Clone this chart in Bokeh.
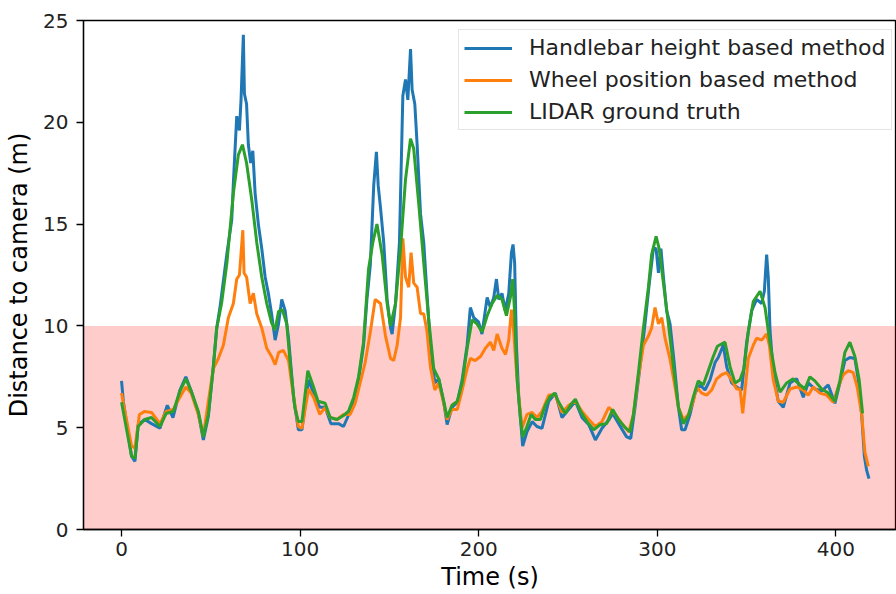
from bokeh.plotting import figure
from bokeh.models import Range1d, FixedTicker, BoxAnnotation, Legend, LegendItem
from bokeh.embed import file_html
from bokeh.resources import INLINE

# ---------------- data ----------------
handlebar_t = [0, 1, 5.6, 7.5, 9.3, 13, 16.8, 21.5, 25.6, 28.8, 32.7, 36, 39, 43, 45.8, 48.6,
               51.4, 53.3, 55.1, 58.9, 61.7, 62.6, 64.5, 66, 66.9, 68.2, 68.8, 70, 71, 72.3,
               73.5, 74.8, 76.6, 78.5, 80.4, 82.2, 84, 86, 87.9, 89.7, 91.6, 93.5, 96.3, 99,
               101, 104.7, 107.5, 111, 114, 117.2, 121.5, 124.3, 127, 130, 132.7, 135.5, 137.4,
               139.3, 141.2, 142.7, 143.7, 145, 146.8, 148.7, 150.6, 151.5, 153.4, 155.6, 157.5,
               159, 160.3, 161.8, 162.7, 164.2, 165.5, 167.4, 169.2, 171, 172.9, 175.4, 177.6,
               180.4, 182.3, 185, 188, 190.7, 193.5, 195.3, 197.2, 199.9, 201.8, 204.7, 206.5,
               208.4, 209.9, 211.2, 213, 214.9, 216.8, 218.3, 219.2, 220.1, 221.1, 222.4, 224.6,
               227, 229.9, 232.6, 235.4, 239.2, 242.9, 246.6, 250.4, 254.1, 257.8, 261.6, 265.3,
               269, 273, 275, 279, 282.8, 285.1, 287.5, 290.3, 293.1, 295.5, 297.8, 299.3, 300.6,
               302, 303.4, 305.2, 307.1, 309, 311.8, 313.6, 315.5, 318.3, 321.1, 323.9, 326.7,
               329.5, 332.3, 334.1, 336.9, 338.8, 341.6, 344.4, 347.2, 350, 352.8, 355.6, 358.4,
               359.9, 361.2, 362.1, 363.1, 364.9, 367.7, 370.5, 374.3, 378, 381.7, 384.5, 388.2,
               392, 395.7, 399.4, 402.2, 405, 407.8, 410.6, 412.5, 414.4, 415.9, 417.2, 418.5]
handlebar_d = [7.3, 6.3, 3.6, 3.35, 5.15, 5.4, 5.2, 4.97, 6.1, 5.5, 6.85, 7.5, 6.8, 5.7, 4.4, 5.55,
               8.0, 9.9, 10.9, 13.5, 15.2, 17.0, 20.3, 19.6, 21.1, 24.3, 21.4, 20.9, 18.9, 18.0,
               18.6, 16.5, 15.0, 13.8, 12.4, 11.6, 10.6, 9.3, 10.1, 11.3, 10.75, 9.4, 6.5, 4.9,
               4.9, 7.35, 6.7, 6.0, 6.0, 5.2, 5.2, 5.06, 5.6, 6.2, 7.35, 9.05, 11.3,
               13.0, 16.9, 18.55, 16.9, 15.8, 14.1, 11.3, 9.9, 9.6, 11.1, 14.1, 21.3,
               22.1, 21.1, 23.6, 21.6, 20.9, 18.9, 15.5, 14.1, 11.6, 9.05, 7.2, 7.4,
               6.25, 5.15, 6.0, 6.25, 7.35, 9.05, 10.9, 10.4, 10.2, 9.6, 11.4, 10.9,
               11.4, 12.3, 11.3, 11.6, 10.75, 11.6, 13.6, 14.0, 13.1, 9.05, 6.5, 4.1,
               4.8, 5.3, 5.06, 4.97, 6.3, 6.7, 5.5, 5.9, 6.3, 5.5, 5.15, 4.4,
               4.97, 5.4, 5.7, 5.1, 4.55, 4.47, 6.0, 8.0, 10.1, 12.1, 13.8, 13.8, 12.6,
               13.8, 12.4, 10.75, 10.1, 8.55, 6.0, 4.9, 4.9, 5.65, 6.7, 7.1, 6.85,
               7.35, 8.2, 8.45, 9.05, 8.0, 7.2, 7.0, 6.85, 9.2, 10.75, 11.3, 11.1,
               11.7, 13.5, 12.4, 9.75, 7.7, 6.3, 6.0, 7.2, 7.4, 6.5, 7.2, 6.9,
               6.8, 7.1, 6.2, 7.2, 8.3, 8.45, 8.4, 7.35, 5.65, 3.6, 2.9, 2.5]

wheel_t = [0, 1, 5.6, 7.5, 10, 13, 16.8, 21.5, 25, 29, 32.7, 36, 39, 43, 45.8, 48.6, 51.4, 54.2,
           57, 59.8, 62.6, 64.5, 66, 67.9, 68.6, 70, 72, 73.8, 75.7, 78.5, 81.3, 84, 86, 88,
           90.6, 93.5, 96, 99, 101, 104.7, 107.5, 111, 114, 116.8, 120.6, 124.3, 128, 130.8,
           133.6, 136.4, 139.3, 142, 145, 147.8, 150.6, 152.4, 154.3, 156.2, 157.5, 159, 160.8,
           162.1, 163.6, 165.5, 167.4, 169.2, 171, 172.9, 175.4, 177.6, 180.4, 182.3, 185, 188,
           190.7, 193.5, 195.3, 198, 201, 203.7, 206.5, 208.4, 210.3, 213, 215, 216.8, 218.3,
           219.5, 220.9, 222.4, 224.3, 227, 229.9, 232.6, 235.4, 239.2, 242.9, 246.6, 250.4,
           254.1, 257.8, 261.6, 265.3, 269, 272.8, 276.5, 280.2, 284, 286.6, 289.4, 292.2, 295,
           296.8, 298.7, 300.6, 302.5, 304.3, 307, 309.3, 311.8, 314.6, 317.4, 320.1, 322, 324.8,
           327.6, 330.4, 333.2, 336, 338.8, 341.6, 344.4, 346.3, 347.8, 349.1, 350.9, 353.7,
           355.6, 358.4, 361.2, 362.7, 364.9, 367.7, 370.5, 374.3, 378, 381.7, 384.5, 387.3,
           391, 394.8, 398.5, 401.3, 404.1, 406.9, 409.7, 411.9, 414.4, 416.2, 418.1]
wheel_d = [6.7, 6.2, 4.1, 4.0, 5.65, 5.8, 5.75, 5.2, 5.8, 5.9, 6.5, 7.0, 6.7, 5.65, 4.6, 6.3, 7.9, 8.4,
           9.05, 10.4, 11.1, 12.3, 12.5, 14.7, 12.6, 12.4, 11.1, 11.6, 10.6, 9.9, 8.9, 8.5, 8.1, 8.7,
           8.8, 8.3, 6.7, 5.06, 4.97, 6.9, 6.5, 5.65, 6.0, 5.5, 5.4, 5.65, 5.65, 6.2,
           7.2, 8.2, 9.7, 11.3, 11.1, 9.5, 8.4, 8.3, 9.05, 10.4, 14.3, 12.4, 11.9,
           13.6, 12.1, 11.9, 10.6, 10.6, 9.75, 8.0, 6.85, 7.2, 6.2, 5.4, 5.9, 5.9,
           6.85, 7.9, 8.4, 8.3, 8.5, 8.9, 9.2, 8.8, 9.6, 8.9, 8.6, 9.3, 10.8,
           9.8, 8.0, 6.5, 5.0, 5.65, 5.75, 5.5, 5.8, 6.6, 6.6, 5.75, 6.1,
           6.3, 5.8, 5.4, 5.06, 5.3, 6.0, 5.65, 5.2, 4.8, 5.65, 7.5, 9.05, 9.5,
           9.9, 10.9, 10.1, 10.4, 9.4, 8.4, 7.3, 6.0, 5.4, 5.65, 6.3, 7.0, 6.7,
           6.6, 6.85, 7.4, 7.6, 7.7, 7.35, 6.9, 6.9, 5.7, 6.85, 8.4, 9.05,
           9.4, 9.3, 9.6, 9.05, 7.35, 6.3, 6.25, 6.9, 7.0, 6.85, 6.6, 7.0,
           6.7, 6.6, 6.25, 7.0, 7.6, 7.8, 7.7, 7.0, 5.65, 3.8, 3.1]

lidar_t = [0, 5.6, 7.5, 9.3, 13, 16.8, 21.5, 25, 29, 32.7, 36, 39, 43, 45.8, 48.6, 51.4, 53.3, 56,
           59, 62.6, 65.4, 67.7, 70, 72.9, 75.7, 78.5, 81.3, 84, 86, 87.9, 90, 92.5, 94.4, 97, 99,
           101, 104.3, 107.5, 110, 114, 116.8, 120.6, 124.3, 127, 130, 132.7, 135.5, 138.3, 140.7,
           143, 145.9, 148.7, 150.6, 153.4, 156.2, 159, 161.8, 163.6, 166.4, 169.2, 172, 174.8,
           177.6, 180.4, 182.3, 185, 188, 190.7, 193.5, 196.3, 199, 201.9, 204.7, 207.5, 210.3,
           213, 215.5, 217.7, 219, 220, 221.5, 223.3, 224.6, 227, 229.3, 231.7, 234.5, 237.3,
           239.7, 242.5, 244.8, 248.5, 251.3, 254.1, 257, 260.6, 264.4, 268, 271.6, 275, 278.2,
           282, 284.7, 286.6, 289.4, 292.2, 295, 296.8, 299.3, 301, 303.4, 306.2, 309, 311.8,
           314.6, 317.4, 320.1, 322.9, 325.7, 328.5, 331.3, 333.6, 337.9, 340.7, 343.5, 346.3,
           348.5, 350.9, 353.7, 357.5, 360.3, 363, 365.9, 368.7, 372.4, 376, 379.9, 382.6, 385.4,
           388.2, 392, 395.7, 399.4, 402.2, 405, 407.8, 410.6, 413, 414.9]
lidar_d = [6.25, 3.6, 3.5, 5.06, 5.4, 5.5, 5.06, 5.7, 5.8, 6.8, 7.4, 6.8, 5.8, 4.55, 5.65, 8.0, 9.9, 11.1,
           13.1, 16.5, 18.4, 18.9, 18.0, 16.2, 14.1, 12.4, 11.1, 10.15, 9.8, 10.7, 10.8, 10.1, 8.2, 6.0, 5.3,
           5.3, 7.8, 7.0, 6.3, 6.2, 5.5, 5.4, 5.6, 5.8, 6.5, 7.5, 9.2, 12.8, 14.1,
           15.0, 13.5, 11.1, 10.0, 11.1, 13.8, 17.2, 19.2, 18.7, 16.0, 13.1, 10.3, 7.9,
           7.4, 6.3, 5.5, 6.1, 6.3, 7.2, 8.9, 10.3, 10.1, 9.7, 10.5, 11.1, 11.5,
           11.3, 10.5, 11.4, 12.3, 10.8, 7.35, 5.5, 4.55, 5.06, 5.65, 5.4, 5.4, 6.1,
           6.5, 6.7, 6.25, 5.7, 6.1, 6.4, 5.8, 5.3, 4.9, 5.15, 5.2, 5.9, 5.4,
           5.0, 4.8, 5.65, 7.7, 9.9, 11.9, 13.5, 14.4, 13.8, 12.1, 10.1, 8.0, 6.0,
           5.2, 5.6, 6.5, 7.3, 7.1, 7.8, 8.5, 9.0, 9.2, 8.0, 7.2, 7.35,
           7.9, 9.7, 11.2, 11.7, 10.9, 9.2, 7.7, 6.75, 7.2, 7.4, 7.1, 6.9, 7.5,
           7.3, 6.9, 6.7, 6.3, 7.3, 8.7, 9.2, 8.5, 7.35, 5.7]

series_labels = ["Handlebar height based method", "Wheel position based method", "LIDAR ground truth"]
x_ticks = [0, 100, 200, 300, 400]
y_ticks = [0, 5, 10, 15, 20, 25]
danger_low = 0
danger_high = 10

FONT = "DejaVu Sans"

p = figure(width=896, height=594, output_backend="svg", toolbar_location=None,
           x_range=Range1d(-21.3, 433.9), y_range=Range1d(0, 25),
           min_border_left=83, min_border_top=20, min_border_bottom=65, min_border_right=0,
           background_fill_color="white", border_fill_color="white")
p.grid.visible = False
p.outline_line_color = "black"
p.outline_line_width = 1.3

band = BoxAnnotation(bottom=danger_low, top=danger_high, fill_color="red", fill_alpha=0.2,
                     line_color=None, level="underlay")
p.add_layout(band)

r1 = p.line(handlebar_t, handlebar_d, line_color="#1f77b4", line_width=3)
r2 = p.line(wheel_t, wheel_d, line_color="#ff7f0e", line_width=3)
r3 = p.line(lidar_t, lidar_d, line_color="#2ca02c", line_width=3)

for ax in (p.xaxis[0], p.yaxis[0]):
    ax.major_label_text_font = FONT
    ax.major_label_text_font_size = "20px"
    ax.major_label_text_color = "#222222"
    ax.axis_label_text_font = FONT
    ax.axis_label_text_font_size = "24px"
    ax.axis_label_text_font_style = "normal"
    ax.axis_label_text_color = "black"
    ax.minor_tick_line_color = None
    ax.major_tick_out = 7
    ax.major_tick_in = 0
    ax.major_tick_line_width = 1.3
    ax.axis_line_width = 1.3
    ax.axis_line_color = "black"
    ax.major_tick_line_color = "black"

p.xaxis[0].ticker = FixedTicker(ticks=x_ticks)
p.yaxis[0].ticker = FixedTicker(ticks=y_ticks)
p.xaxis[0].axis_label = "Time (s)"
p.yaxis[0].axis_label = "Distance to camera (m)"
p.xaxis[0].major_label_standoff = 5
p.xaxis[0].axis_label_standoff = 4
p.yaxis[0].major_label_standoff = 8
p.yaxis[0].axis_label_standoff = 7

legend = Legend(items=[LegendItem(label=series_labels[0], renderers=[r1]),
                       LegendItem(label=series_labels[1], renderers=[r2]),
                       LegendItem(label=series_labels[2], renderers=[r3])],
                location=(375, 399))
legend.label_text_font = FONT
legend.label_text_font_size = "22px"
legend.label_text_color = "#222222"
legend.glyph_width = 48
legend.glyph_height = 24
legend.label_height = 24
legend.label_standoff = 17
legend.padding = 5
legend.spacing = 7
legend.margin = 0
legend.border_line_color = "#cccccc"
legend.border_line_width = 1.3
legend.background_fill_alpha = 0.8
p.add_layout(legend, "center")

open("out.html", "w").write(file_html(p, INLINE))
